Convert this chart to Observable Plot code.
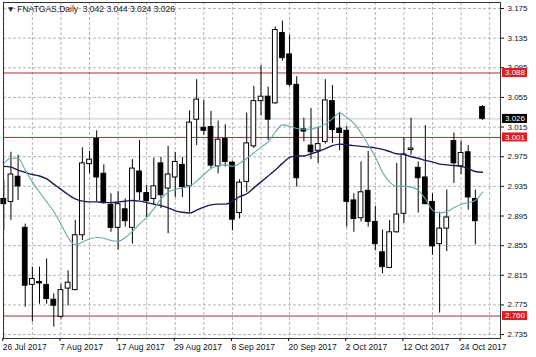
<!DOCTYPE html>
<html><head><meta charset="utf-8">
<script src="https://cdn.jsdelivr.net/npm/d3@7"></script>
<script src="https://cdn.jsdelivr.net/npm/@observablehq/plot@0.6"></script>
<style>body{margin:0;background:#fff} #chart{width:536px;height:357px}</style>
</head><body><div id="chart"></div>
<script>
const opens = [2.918,2.914,2.948,2.879,2.802,2.806,2.802,2.782,2.759,2.797,2.795,2.869,2.965,2.999,2.952,2.910,2.879,2.904,2.879,2.955,2.926,2.918,2.966,2.932,2.947,2.964,2.935,3.025,3.014,3.015,2.962,2.999,2.967,2.899,2.941,2.989,3.050,3.056,3.047,3.142,3.113,3.072,3.012,2.990,2.983,2.995,3.050,3.013,3.010,2.916,2.892,2.929,2.887,2.846,2.825,2.873,2.898,2.984,2.960,2.947,2.914,2.857,2.878,2.996,2.962,2.981,2.918,3.042];
const highs = [2.943,2.981,2.977,2.884,2.826,2.826,2.837,2.790,2.803,2.821,2.889,2.987,2.982,3.010,2.964,2.925,2.928,2.918,2.971,2.997,2.936,2.973,2.974,2.989,2.981,2.974,3.037,3.079,3.051,3.036,3.023,3.018,2.969,2.944,3.034,3.070,3.098,3.069,3.150,3.158,3.139,3.083,3.027,3.040,3.015,3.079,3.071,3.035,3.016,2.925,2.968,2.982,2.908,2.876,2.889,2.966,3.000,3.027,2.968,3.017,2.925,2.900,2.930,3.007,2.996,2.990,2.930,3.044];
const lows = [2.875,2.889,2.916,2.772,2.752,2.776,2.776,2.745,2.756,2.774,2.794,2.862,2.952,2.914,2.911,2.873,2.849,2.880,2.857,2.916,2.893,2.909,2.905,2.871,2.920,2.920,2.900,2.990,3.004,2.959,2.952,2.961,2.875,2.891,2.927,2.986,3.030,2.997,3.046,3.104,3.069,2.934,2.995,2.971,2.966,2.992,2.993,2.983,2.880,2.873,2.887,2.880,2.848,2.817,2.824,2.872,2.885,2.977,2.899,2.910,2.842,2.764,2.847,2.939,2.951,2.903,2.856,3.024];
const closes = [2.911,2.951,2.935,2.801,2.810,2.804,2.783,2.774,2.795,2.805,2.869,2.966,2.971,2.947,2.914,2.879,2.911,2.888,2.959,2.927,2.915,2.935,2.923,2.951,2.968,2.934,3.021,3.052,3.010,2.963,2.998,2.968,2.890,2.940,2.993,3.050,3.056,3.025,3.146,3.108,3.072,2.946,3.009,2.981,2.992,3.051,3.011,3.007,2.914,2.891,2.927,2.887,2.857,2.826,2.873,2.897,2.978,2.986,2.946,2.911,2.854,2.878,2.893,2.966,2.980,2.920,2.888,3.026];
const maSlow = [2.962,2.961,2.957,2.954,2.951,2.949,2.945,2.938,2.931,2.924,2.918,2.915,2.914,2.914,2.913,2.913,2.914,2.915,2.916,2.915,2.913,2.911,2.909,2.906,2.902,2.900,2.899,2.903,2.907,2.910,2.911,2.911,2.915,2.921,2.925,2.933,2.941,2.949,2.957,2.966,2.974,2.976,2.976,2.979,2.982,2.986,2.990,2.992,2.991,2.990,2.989,2.988,2.987,2.985,2.982,2.979,2.978,2.975,2.973,2.970,2.968,2.965,2.964,2.963,2.962,2.959,2.955,2.954];
const maFast = [2.966,2.973,2.973,2.957,2.941,2.927,2.914,2.901,2.884,2.866,2.856,2.860,2.864,2.866,2.865,2.862,2.861,2.866,2.874,2.884,2.893,2.905,2.918,2.927,2.931,2.933,2.935,2.942,2.951,2.959,2.963,2.964,2.962,2.966,2.973,2.980,2.988,2.995,3.008,3.018,3.016,3.013,3.012,3.012,3.015,3.019,3.026,3.034,3.028,3.020,3.007,2.991,2.975,2.954,2.941,2.935,2.935,2.934,2.930,2.918,2.903,2.899,2.901,2.906,2.911,2.913,2.916,2.927];
const xTickLabels = ["26 Jul 2017","7 Aug 2017","17 Aug 2017","29 Aug 2017","8 Sep 2017","20 Sep 2017","2 Oct 2017","12 Oct 2017","24 Oct 2017"];
const yTicks = [3.175,3.135,3.095,3.055,3.015,2.975,2.935,2.895,2.855,2.815,2.775,2.735];
const levels = [3.088,3.001,2.760];
const lastPrice = 3.026;
const title = "\u25BC FNATGAS,Daily  3.042 3.044 3.024 3.026";

const candles = opens.map((o,i)=>({i, o, h:highs[i], l:lows[i], c:closes[i]}));
const barsPerLabel = 8, barsPerGrid = 4;
const xTickIdx = xTickLabels.map((_,k)=>k*barsPerLabel);
const gridIdx = d3.range(0, opens.length + 2, barsPerGrid);
const W = 536, H = 357, mR = 36;
const fmt = d3.format(".3f");
const gridStyle = {stroke:"#b4b4b4", strokeOpacity:1, strokeDasharray:"3,2"};

const chart = Plot.plot({
  width: W, height: H,
  marginLeft: 3, marginRight: mR, marginTop: 2, marginBottom: 19,
  style: {fontFamily: "'Liberation Sans', Arial, sans-serif", fontSize: "8.5px", color: "#111", background: "#fff"},
  x: {type: "linear", domain: [-0.04, 69.52]},
  y: {domain: [2.7297, 3.1831]},
  marks: [
    Plot.gridY(yTicks, gridStyle),
    Plot.gridX(gridIdx, gridStyle),
    Plot.ruleY([lastPrice], {stroke:"#c4c4c4"}),
    Plot.ruleY(levels, {stroke:"#a3323f", strokeWidth:1}),
    Plot.ruleX(candles, {x:"i", y1:"l", y2:"h", stroke:"#000", strokeWidth:1}),
    Plot.rect(candles, {x1:d=>d.i-0.33, x2:d=>d.i+0.33, y1:"o", y2:"c",
      fill:d=>d.c>=d.o?"#fff":"#000", stroke:"#000", strokeWidth:1}),
    Plot.lineY(maSlow, {x:(d,i)=>i, y:d=>d, stroke:"#1c1c55", strokeWidth:1.4, curve:"monotone-x"}),
    Plot.lineY(maFast, {x:(d,i)=>i, y:d=>d, stroke:"#6aa8a8", strokeWidth:1.1, curve:"monotone-x"}),
    Plot.frame({stroke:"#333"}),
    Plot.axisY(yTicks, {anchor:"right", tickSize:3, tickPadding:4, tickFormat:fmt, fontSize:8, label:null}),
    Plot.axisX(xTickIdx, {anchor:"bottom", tickSize:3, tickPadding:2, textAnchor:"start", dx:-1,
      tickFormat:i=>xTickLabels[i/barsPerLabel], fontSize:8.5, label:null}),
    Plot.text([title], {frameAnchor:"top-left", dx:3, dy:3, lineAnchor:"top", textAnchor:"start", fontSize:8.5, fill:"#222"})
  ]
});

const yS = chart.scale("y");
const svg = d3.select(chart);
const g = svg.append("g").attr("font-family","'Liberation Sans', Arial, sans-serif").attr("font-size", 8).attr("text-anchor","start");
[...levels.map(v=>({v, fill:"#e31b23"})), {v:lastPrice, fill:"#000"}].forEach(b=>{
  const yy = yS.apply(b.v);
  g.append("rect").attr("x", W-mR+2).attr("y", yy-4.5).attr("width", 25).attr("height", 9).attr("fill", b.fill);
  g.append("text").attr("x", W-mR+5).attr("y", yy).attr("dy","0.35em").attr("text-anchor","start").attr("fill","#fff").text(fmt(b.v));
});
document.getElementById("chart").appendChild(chart);
</script>
</body></html>
